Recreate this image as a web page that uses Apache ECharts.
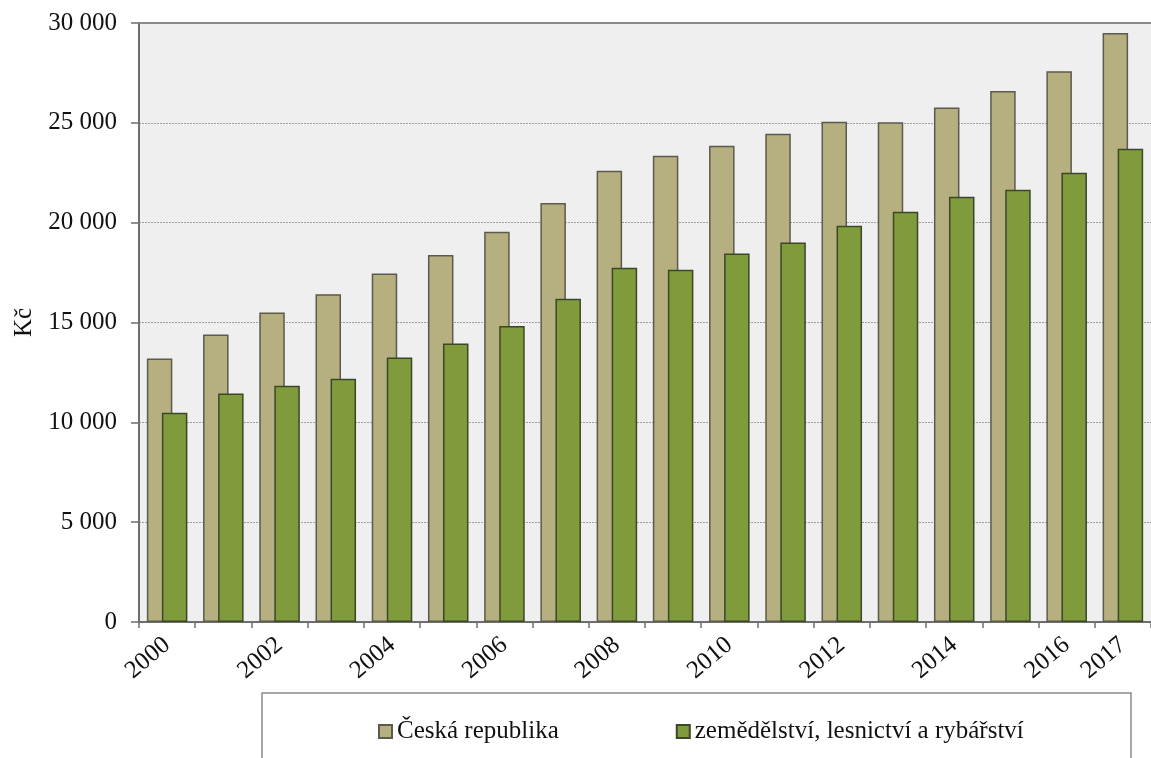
<!DOCTYPE html>
<html>
<head>
<meta charset="utf-8">
<script src="https://cdn.jsdelivr.net/npm/echarts@6/dist/echarts.min.js"></script>
<style>
  html, body { margin: 0; padding: 0; background: #ffffff; }
  #chart { width: 1151px; height: 758px; }
</style>
</head>
<body>
<div id="chart"></div>
<script>
// Průměrná hrubá měsíční mzda (Kč)
const years = ['2000','2001','2002','2003','2004','2005','2006','2007','2008',
               '2009','2010','2011','2012','2013','2014','2015','2016','2017'];
const ceskaRepublika = [13200, 14400, 15500, 16420, 17450, 18380, 19550, 20980, 22600,
                        23350, 23850, 24450, 25050, 25030, 25770, 26590, 27580, 29500];
const zemedelstvi = [10480, 11450, 11830, 12180, 13250, 13950, 14820, 16190, 17740,
                     17640, 18460, 19010, 19850, 20550, 21300, 21650, 22500, 23700];
const seriesNames = ['Česká republika', 'zemědělství, lesnictví a rybářství'];
const yTicks = { min: 0, max: 30000, step: 5000 };

const FONT = '"Liberation Serif", "Times New Roman", serif';
const FS = 25;
const chart = echarts.init(document.getElementById('chart'), null, { renderer: 'canvas' });

const fmtThousands = v => String(v).replace(/\B(?=(\d{3})+(?!\d))/g, '\u00a0');

chart.setOption({
  animation: false,
  backgroundColor: '#ffffff',
  textStyle: { fontFamily: FONT },
  graphic: [{
    type: 'rect',
    z: 0,
    shape: { x: 262, y: 693, width: 869, height: 120 },
    style: { fill: '#ffffff', stroke: '#8a8a8a', lineWidth: 1.5 }
  }],
  legend: {
    top: 714,
    left: 373,
    itemWidth: 13,
    itemHeight: 13,
    itemGap: 117,
    icon: 'rect',
    z: 5,
    textStyle: { fontFamily: FONT, fontSize: FS, color: '#111', padding: [0, 0, 0, 0] },
    data: seriesNames
  },
  grid: {
    left: 139, right: -4, top: 23, bottom: 136,
    show: true, backgroundColor: '#efefef', borderWidth: 0
  },
  xAxis: [{
    type: 'category',
    data: years,
    axisLine: { lineStyle: { color: '#6e6e6e', width: 2 } },
    axisTick: { show: true, interval: 0, length: 6, lineStyle: { color: '#6e6e6e', width: 1.5 } },
    axisLabel: {
      interval: (idx) => idx % 2 === 0 || idx === years.length - 1,
      rotate: 40,
      margin: 20,
      fontFamily: FONT,
      fontSize: FS,
      color: '#111'
    }
  }, {
    type: 'category',
    data: years,
    position: 'top',
    axisLine: { show: true, lineStyle: { color: '#8a8a8a', width: 2 } },
    axisTick: { show: false },
    axisLabel: { show: false }
  }],
  yAxis: {
    type: 'value',
    min: yTicks.min,
    max: yTicks.max,
    interval: yTicks.step,
    name: 'Kč',
    nameLocation: 'middle',
    nameRotate: 90,
    nameGap: 98,
    nameTextStyle: { fontFamily: FONT, fontSize: FS, color: '#111' },
    axisLine: { show: true, lineStyle: { color: '#6e6e6e', width: 2 } },
    axisTick: { show: true, length: 8, lineStyle: { color: '#6e6e6e', width: 1.5 } },
    axisLabel: {
      margin: 22,
      fontFamily: FONT,
      fontSize: FS,
      color: '#111',
      formatter: v => fmtThousands(v)
    },
    splitLine: { show: true, lineStyle: { color: '#a0a0a0', width: 1, type: [2, 1] } }
  },
  series: [{
    name: seriesNames[0],
    type: 'bar',
    data: ceskaRepublika,
    barWidth: 25.5,
    barGap: '-41%',
    itemStyle: { color: '#b6af80', borderColor: '#5c5a4c', borderWidth: 1.5 }
  }, {
    name: seriesNames[1],
    type: 'bar',
    data: zemedelstvi,
    barWidth: 25.5,
    barGap: '-41%',
    itemStyle: { color: '#7f9b3c', borderColor: '#3c4728', borderWidth: 1.5 }
  }]
});
</script>
</body>
</html>
